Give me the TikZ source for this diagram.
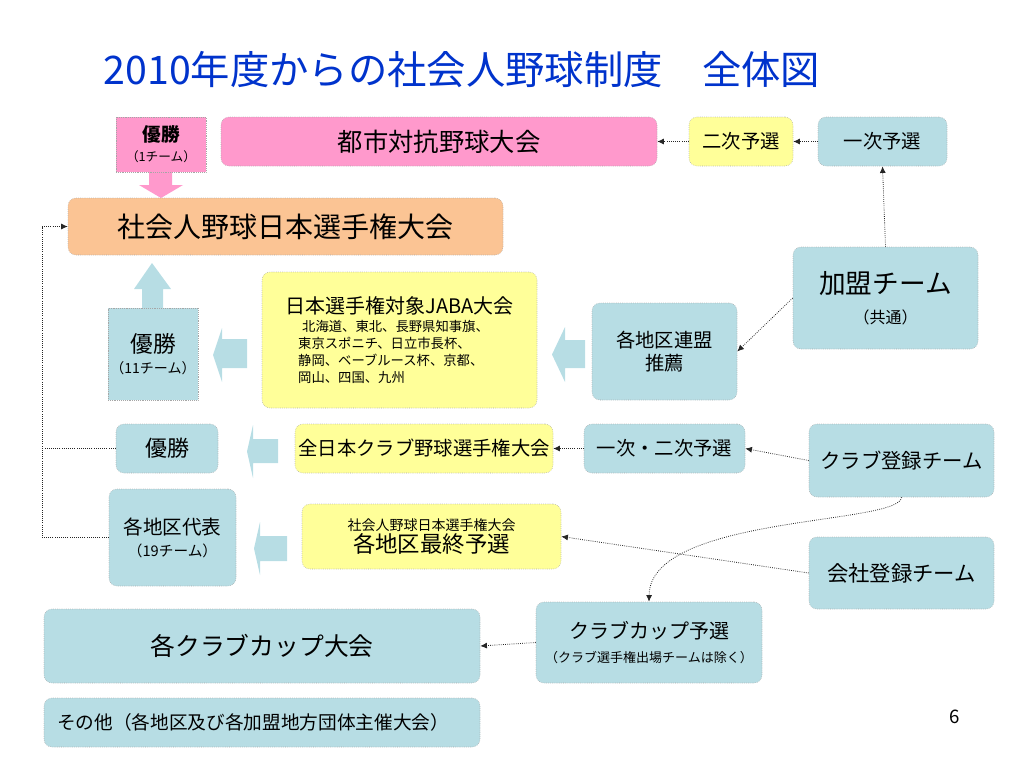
\documentclass[tikz,border=0pt]{standalone}
\usepackage{fontspec}
\setmainfont{Noto Sans CJK JP}
\usepackage{xcolor}
\usetikzlibrary{arrows.meta,positioning}
\definecolor{titleblue}{RGB}{0,51,204}
\definecolor{pinkfill}{RGB}{255,153,204}
\definecolor{orangefill}{RGB}{251,196,148}
\definecolor{yellowfill}{RGB}{255,255,153}
\definecolor{bluefill}{RGB}{183,221,228}

\begin{document}
\begin{tikzpicture}[x=0.75pt,y=0.75pt,yscale=-1,xscale=1,
  box/.style={draw=gray!70,densely dotted,line width=0.4pt,inner sep=0pt,align=center,text=black},
  rbox/.style={box,rounded corners=6pt},
  link/.style={densely dotted,line width=0.6pt,draw=black!85,-{Latex[length=5pt,width=4.5pt]}}]
\path[use as bounding box] (0,0) rectangle (1024,768);

% Title
\node[text=titleblue,font=\fontsize{29.5}{34}\selectfont] (title) at (462,70) {2010年度からの社会人野球制度　全体図};

%Shape: Block Arrows
\fill[pinkfill] (149,172) -- (172,172) -- (172,185) -- (183,185) -- (161,198) -- (139,185) -- (149,185) -- cycle ;
\fill[bluefill] (142,308) -- (142,289) -- (134,289) -- (152,263) -- (171,289) -- (163,289) -- (163,308) -- cycle ;
\fill[bluefill] (247,339) -- (222,339) -- (222,328) -- (213,355) -- (222,382) -- (222,368) -- (247,368) -- cycle ;
\fill[bluefill] (585,340) -- (565,340) -- (565,327) -- (552,354.5) -- (565,382) -- (565,368) -- (585,368) -- cycle ;
\fill[bluefill] (278,439) -- (253,439) -- (253,425) -- (247,451.5) -- (253,478) -- (253,463) -- (278,463) -- cycle ;
\fill[bluefill] (287,536) -- (260,536) -- (260,522) -- (254,548.5) -- (260,575) -- (260,561) -- (287,561) -- cycle ;

% Top row
\node[box,fill=pinkfill,minimum width=67.5pt,minimum height=41.25pt,font=\fontsize{14}{15}\selectfont] (win1) at (161,144.5) {{\bfseries 優勝}\\{\fontsize{9.5}{11}\selectfont （1チーム）}};
\node[rbox,fill=pinkfill,minimum width=327pt,minimum height=36.75pt,font=\fontsize{19}{22}\selectfont] (toshi) at (439,141.5) {都市対抗野球大会};
\node[rbox,fill=yellowfill,minimum width=78pt,minimum height=36.75pt,font=\fontsize{14.5}{17}\selectfont] (niji) at (741,141.5) {二次予選};
\node[rbox,fill=bluefill,minimum width=96.75pt,minimum height=36.75pt,font=\fontsize{14.5}{17}\selectfont] (ichiji) at (882.5,141.5) {一次予選};

% Japan championship
\node[rbox,fill=orangefill,minimum width=326.25pt,minimum height=42.75pt,font=\fontsize{21}{24}\selectfont] (nihon) at (285.5,226.5) {社会人野球日本選手権大会};

% Middle rows
\node[rbox,fill=bluefill,minimum width=138.75pt,minimum height=76.5pt,font=\fontsize{20}{22.5}\selectfont] (kamei) at (885.5,298) {加盟チーム\\{\fontsize{12}{15}\selectfont （共通）}};
\node[rbox,fill=bluefill,minimum width=108.75pt,minimum height=72.75pt,font=\fontsize{14.5}{17.25}\selectfont] (renmei) at (664.5,351.5) {各地区連盟\\推薦};
\node[rbox,fill=yellowfill,minimum width=206.25pt,minimum height=102pt] (jaba) at (399.5,340) {\begin{minipage}{180pt}\centering\fontsize{15}{18}\selectfont 日本選手権対象JABA大会\par\vspace{1pt}\raggedright\fontsize{10}{12.75}\selectfont\leftskip=14pt\hspace*{3pt}北海道、東北、長野県知事旗、\\東京スポニチ、日立市長杯、\\静岡、ベーブルース杯、京都、\\岡山、四国、九州\end{minipage}};
\node[box,fill=bluefill,minimum width=67.5pt,minimum height=69pt,font=\fontsize{17}{16}\selectfont] (win11) at (153,354) {優勝\\{\fontsize{10.5}{12}\selectfont （11チーム）}};

\node[rbox,fill=bluefill,minimum width=76.5pt,minimum height=36.75pt,font=\fontsize{16.5}{19}\selectfont] (winclub) at (167,448.5) {優勝};
\node[rbox,fill=yellowfill,minimum width=193.5pt,minimum height=36.75pt,font=\fontsize{14.5}{17}\selectfont] (club) at (424,448.5) {全日本クラブ野球選手権大会};
\node[rbox,fill=bluefill,minimum width=120.75pt,minimum height=36.75pt,font=\fontsize{14.5}{17}\selectfont] (yosen12) at (664.5,448.5) {一次・二次予選};
\node[rbox,fill=bluefill,minimum width=138.75pt,minimum height=54.75pt,font=\fontsize{15.3}{18}\selectfont] (clubteam) at (901.5,460.5) {クラブ登録チーム};
\node[rbox,fill=bluefill,minimum width=138.75pt,minimum height=54pt,font=\fontsize{16}{19}\selectfont] (kaisha) at (901.5,573) {会社登録チーム};

\node[rbox,fill=yellowfill,minimum width=194.25pt,minimum height=48.75pt,font=\fontsize{16.8}{16.5}\selectfont] (chiku) at (431.5,536.5) {{\fontsize{10.5}{12}\selectfont 社会人野球日本選手権大会}\\各地区最終予選};
\node[rbox,fill=bluefill,minimum width=95.25pt,minimum height=72.75pt,font=\fontsize{14.7}{16.5}\selectfont] (daihyo) at (172.5,537.5) {各地区代表\\{\fontsize{11}{13}\selectfont （19チーム）}};

% Bottom rows
\node[rbox,fill=bluefill,minimum width=169.5pt,minimum height=60.75pt,font=\fontsize{15}{18}\selectfont] (cupyosen) at (649,642.5) {クラブカップ予選\\{\fontsize{9.75}{12}\selectfont （クラブ選手権出場チームは除く）}};
\node[rbox,fill=bluefill,minimum width=327pt,minimum height=55.5pt,font=\fontsize{18.6}{22}\selectfont] (cup) at (262,646) {各クラブカップ大会};
\node[rbox,fill=bluefill,minimum width=327pt,minimum height=36.75pt,font=\fontsize{14}{17}\selectfont,text width=307.5pt,align=left] (other) at (262,722.5) {その他（各地区及び各加盟地方団体主催大会）};
\node[font=\fontsize{14}{17}\selectfont] (page) at (955,717) {6};

% Connectors
\coordinate (lx) at (42,0);
\draw[link] (niji) -- (toshi);
\draw[link] (ichiji) -- (niji);
\draw[link] (kamei.north) -- (ichiji.south);
\draw[link] (kamei.west) -- (renmei.east);
\draw[link] (yosen12) -- (club);
\draw[link] (clubteam.west) -- (yosen12.east);
\draw[link] (kaisha.west) -- (chiku.east);
\draw[link] (clubteam.south) .. controls +(-2,28) and +(1,-87) .. (cupyosen.north);
\draw[link] (cupyosen.west) -- (cup.east);
\draw[link] (daihyo.west) -- (daihyo.west -| lx) |- (nihon.west);
\draw[densely dotted,line width=0.6pt,draw=black!85] (winclub.west) -- (winclub.west -| lx);

\end{tikzpicture}
\end{document}
